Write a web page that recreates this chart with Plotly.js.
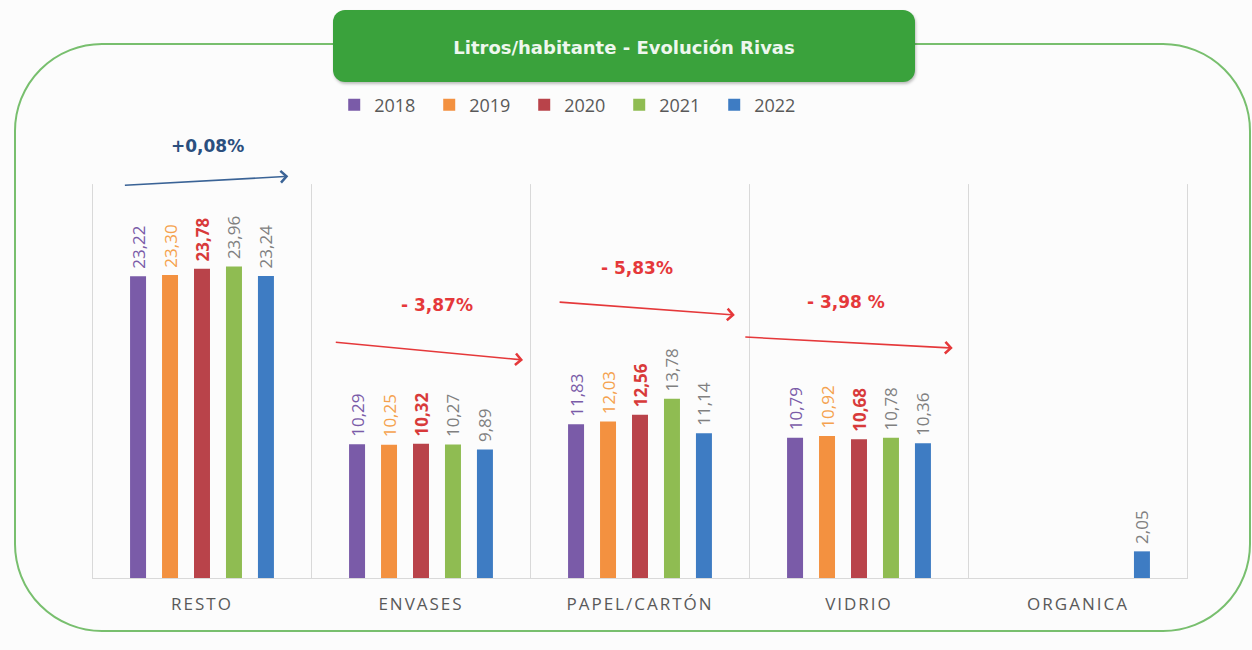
<!DOCTYPE html>
<html>
<head>
<meta charset="utf-8">
<script src="https://cdn.plot.ly/plotly-3.0.1.min.js"></script>
<style>
  html, body { margin: 0; padding: 0; background: #fcfcfc; }
  #wrap { position: relative; width: 1252px; height: 650px; overflow: hidden; }
  #frame { position: absolute; left: 14px; top: 43px; width: 1237px; height: 589px; box-sizing: border-box;
           border: 2px solid #78bf6e; border-radius: 88px; }
  #titlebox { position: absolute; left: 333px; top: 10px; width: 582px; height: 72px; background: #3aa23c;
              border-radius: 12px; box-shadow: 1px 2px 3px rgba(0,0,0,0.25); }
  #chart { position: absolute; left: 0; top: 0; width: 1252px; height: 650px; }
  #chart .xtick text { letter-spacing: 2px; }
</style>
</head>
<body>
<div id="wrap">
  <div id="frame"></div>
  <div id="titlebox"></div>
  <div id="chart"></div>
</div>
<script>
const categories = ["RESTO", "ENVASES", "PAPEL/CARTÓN", "VIDRIO", "ORGANICA"];
const years = ["2018", "2019", "2020", "2021", "2022"];
const v2018 = [23.22, 10.29, 11.83, 10.79, null];
const v2019 = [23.30, 10.25, 12.03, 10.92, null];
const v2020 = [23.78, 10.32, 12.56, 10.68, null];
const v2021 = [23.96, 10.27, 13.78, 10.78, null];
const v2022 = [23.24, 9.89, 11.14, 10.36, 2.05];
const seriesValues = [v2018, v2019, v2020, v2021, v2022];
const barColors = ["#7a5ba8", "#f39140", "#b9434a", "#8fbc52", "#3e7cc3"];
const labelColors = ["#7a5ba8", "#f5a24e", "#d83a3a", "#808080", "#808080"];
const labelWeights = ["normal", "normal", "bold", "normal", "normal"];
const changeLabels = ["+0,08%", "- 3,87%", "- 5,83%", "- 3,98 %"];

const traces = years.map((yr, i) => ({
  type: "bar",
  name: yr,
  x: categories,
  y: seriesValues[i],
  marker: { color: barColors[i] },
  texttemplate: "\u00a0%{y:.2f}",
  textposition: "outside",
  textangle: -90,
  constraintext: "none",
  cliponaxis: false,
  outsidetextfont: { family: "Open Sans", size: 17, color: labelColors[i], weight: labelWeights[i] },
  hoverinfo: "skip"
}));

// separators between categories
const shapes = [];
for (let k = 0; k <= categories.length; k++) {
  shapes.push({ type: "line", xref: "x", yref: "y", x0: k - 0.5, x1: k - 0.5, y0: 0, y1: 30.3,
                line: { color: "#d9d9d9", width: 1 } });
}

function arrow(x, y, ax, ay, color) {
  return { xref: "x", yref: "y", axref: "x", ayref: "y", x: x, y: y, ax: ax, ay: ay,
           text: "", showarrow: true, arrowhead: 4, arrowsize: 1.4, arrowwidth: 1.6, arrowcolor: color };
}
function label(x, y, text, color) {
  return { xref: "x", yref: "y", x: x, y: y, text: "<b>" + text + "</b>", showarrow: false,
           font: { family: "DejaVu Sans", size: 17, color: color } };
}

const annotations = [
  arrow(0.394, 30.9, -0.359, 30.2, "#3a6396"),
  label(0.025, 33.2, changeLabels[0], "#2b4f7e"),
  arrow(1.466, 16.77, 0.604, 18.15, "#e5383a"),
  label(1.074, 21.0, changeLabels[1], "#e5383a"),
  arrow(2.433, 20.23, 1.626, 21.23, "#e5383a"),
  label(1.986, 23.85, changeLabels[2], "#e5383a"),
  arrow(3.428, 17.69, 2.474, 18.54, "#e5383a"),
  label(2.94, 21.23, changeLabels[3], "#e5383a")
];

const layout = {
  width: 1252, height: 650,
  margin: { l: 92, r: 64, t: 136, b: 72 },
  paper_bgcolor: "rgba(0,0,0,0)",
  plot_bgcolor: "rgba(0,0,0,0)",
  separators: ",.",
  barmode: "group",
  bargap: 0.27,
  bargroupgap: 0.5,
  title: {
    text: "<b>Litros/habitante - Evolución Rivas</b>",
    font: { family: "DejaVu Sans", size: 18, color: "#eef7ee" },
    xref: "container", yref: "container",
    x: 624 / 1252, y: 1 - 48 / 650, xanchor: "center", yanchor: "middle"
  },
  showlegend: true,
  legend: {
    orientation: "h", x: 0.221, y: 1 + (136 - 105) / 442, xanchor: "left", yanchor: "middle",
    font: { family: "Open Sans", size: 18, color: "#595959" },
    itemwidth: 30, entrywidth: 50, traceorder: "normal",
    bgcolor: "rgba(0,0,0,0)"
  },
  xaxis: {
    type: "category",
    showgrid: false,
    showline: true, linecolor: "#d9d9d9", linewidth: 1,
    ticks: "outside", ticklen: 11, tickcolor: "rgba(0,0,0,0)",
    tickfont: { family: "Open Sans", size: 17, color: "#595959" },
    fixedrange: true
  },
  yaxis: {
    range: [0, 34], visible: false, showgrid: false, zeroline: false, fixedrange: true
  },
  shapes: shapes,
  annotations: annotations
};

Plotly.newPlot("chart", traces, layout, { displayModeBar: false, staticPlot: true });
</script>
</body>
</html>
